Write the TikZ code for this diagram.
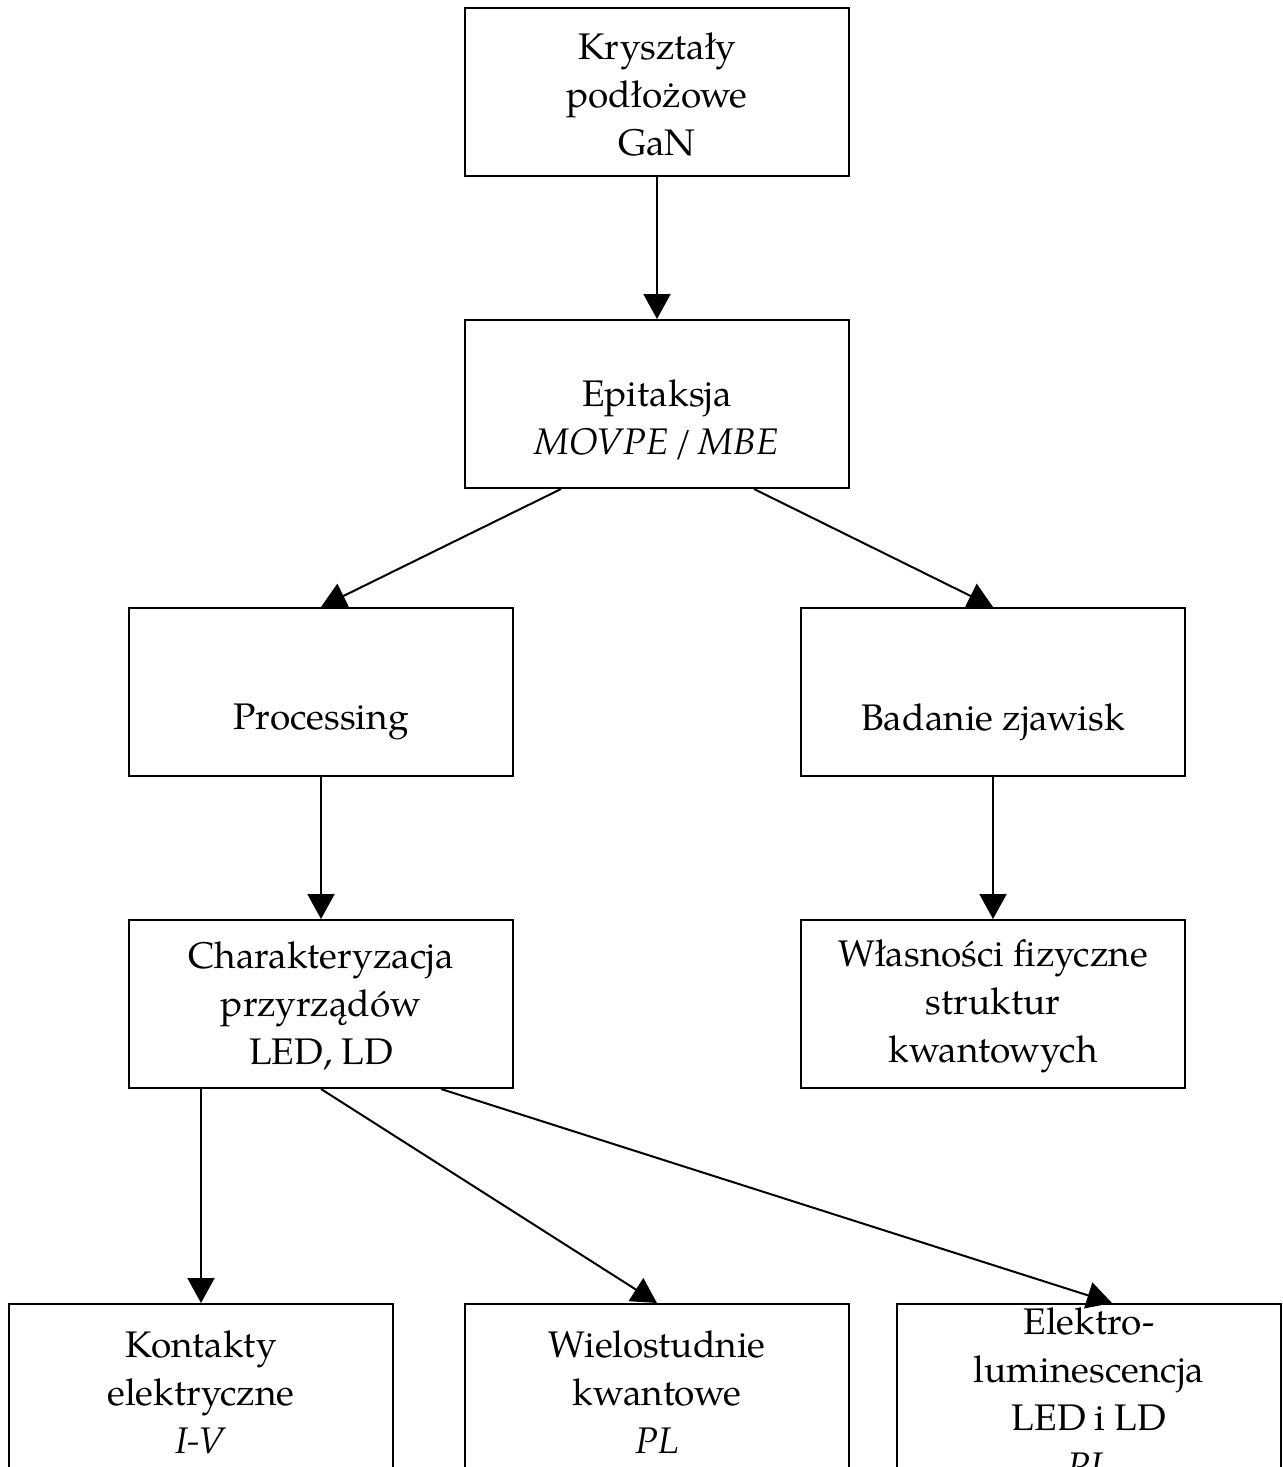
\documentclass[tikz,border=0pt]{standalone}
\usepackage{fontspec}
\setmainfont{TeX Gyre Pagella}
\usetikzlibrary{arrows.meta,calc}
\tikzset{
  box/.style={draw, line width=1pt, minimum width=192pt, minimum height=84pt, inner sep=0pt},
  lbl/.style={align=center, font=\fontsize{18.5}{24}\selectfont, inner sep=0pt},
  conn/.style={line width=1pt, -{Triangle[length=12.5pt,width=13.5pt]}}
}
\begin{document}
\begin{tikzpicture}[x=0.5pt,y=-0.5pt]
\useasboundingbox (0,0) rectangle (1283,1467);
\clip (0,0) rectangle (1283,1467);
% boxes
\node[box] (b1) at (657,92) {};
\node[box] (b2) at (657,404) {};
\node[box] (b3) at (321,692) {};
\node[box] (b4) at (993,692) {};
\node[box] (b5) at (321,1004) {};
\node[box] (b6) at (993,1004) {};
\node[box, minimum height=88pt] (b7) at (201,1392) {};
\node[box, minimum height=88pt] (b8) at (657,1392) {};
\node[box, minimum height=88pt] (b9) at (1089,1392) {};
% texts
\node[lbl] (t1) at (657,94) {Kryształy\\podłożowe\\GaN};
\node[lbl] (t2) at (657,420) {Epitaksja\\\textit{MOVPE\,/\,MBE}};
\node[lbl] (t3) at (321,722) {Processing};
\node[lbl] (t4) at (993,722) {Badanie zjawisk};
\node[lbl] (t5) at (321,1006) {Charakteryzacja\\przyrządów\\LED, LD};
\node[lbl] (t6) at (993,1006) {Własności fizyczne\\struktur\\kwantowych};
\node[lbl] (t7) at (201,1392) {Kontakty\\elektryczne\\\textit{I-V}};
\node[lbl] (t8) at (657,1392) {Wielostudnie\\kwantowe\\\textit{PL}};
\node[lbl] (t9) at (1089,1393) {Elektro-\\luminescencja\\LED i LD\\\textit{PL}};
% connectors
\draw[conn] (b1.south) -- (b2.north);
\draw[conn] ($(b2.south)+(-96,0)$) -- (b3.north);
\draw[conn] ($(b2.south)+(97,0)$) -- (b4.north);
\draw[conn] (b3.south) -- (b5.north);
\draw[conn] (b4.south) -- (b6.north);
\draw[conn] ($(b5.south)+(-120,0)$) -- (b7.north);
\draw[conn] (b5.south) -- (b8.north);
\draw[conn] ($(b5.south)+(120,0)$) -- ($(b9.north)+(23,0)$);
\end{tikzpicture}
\end{document}
